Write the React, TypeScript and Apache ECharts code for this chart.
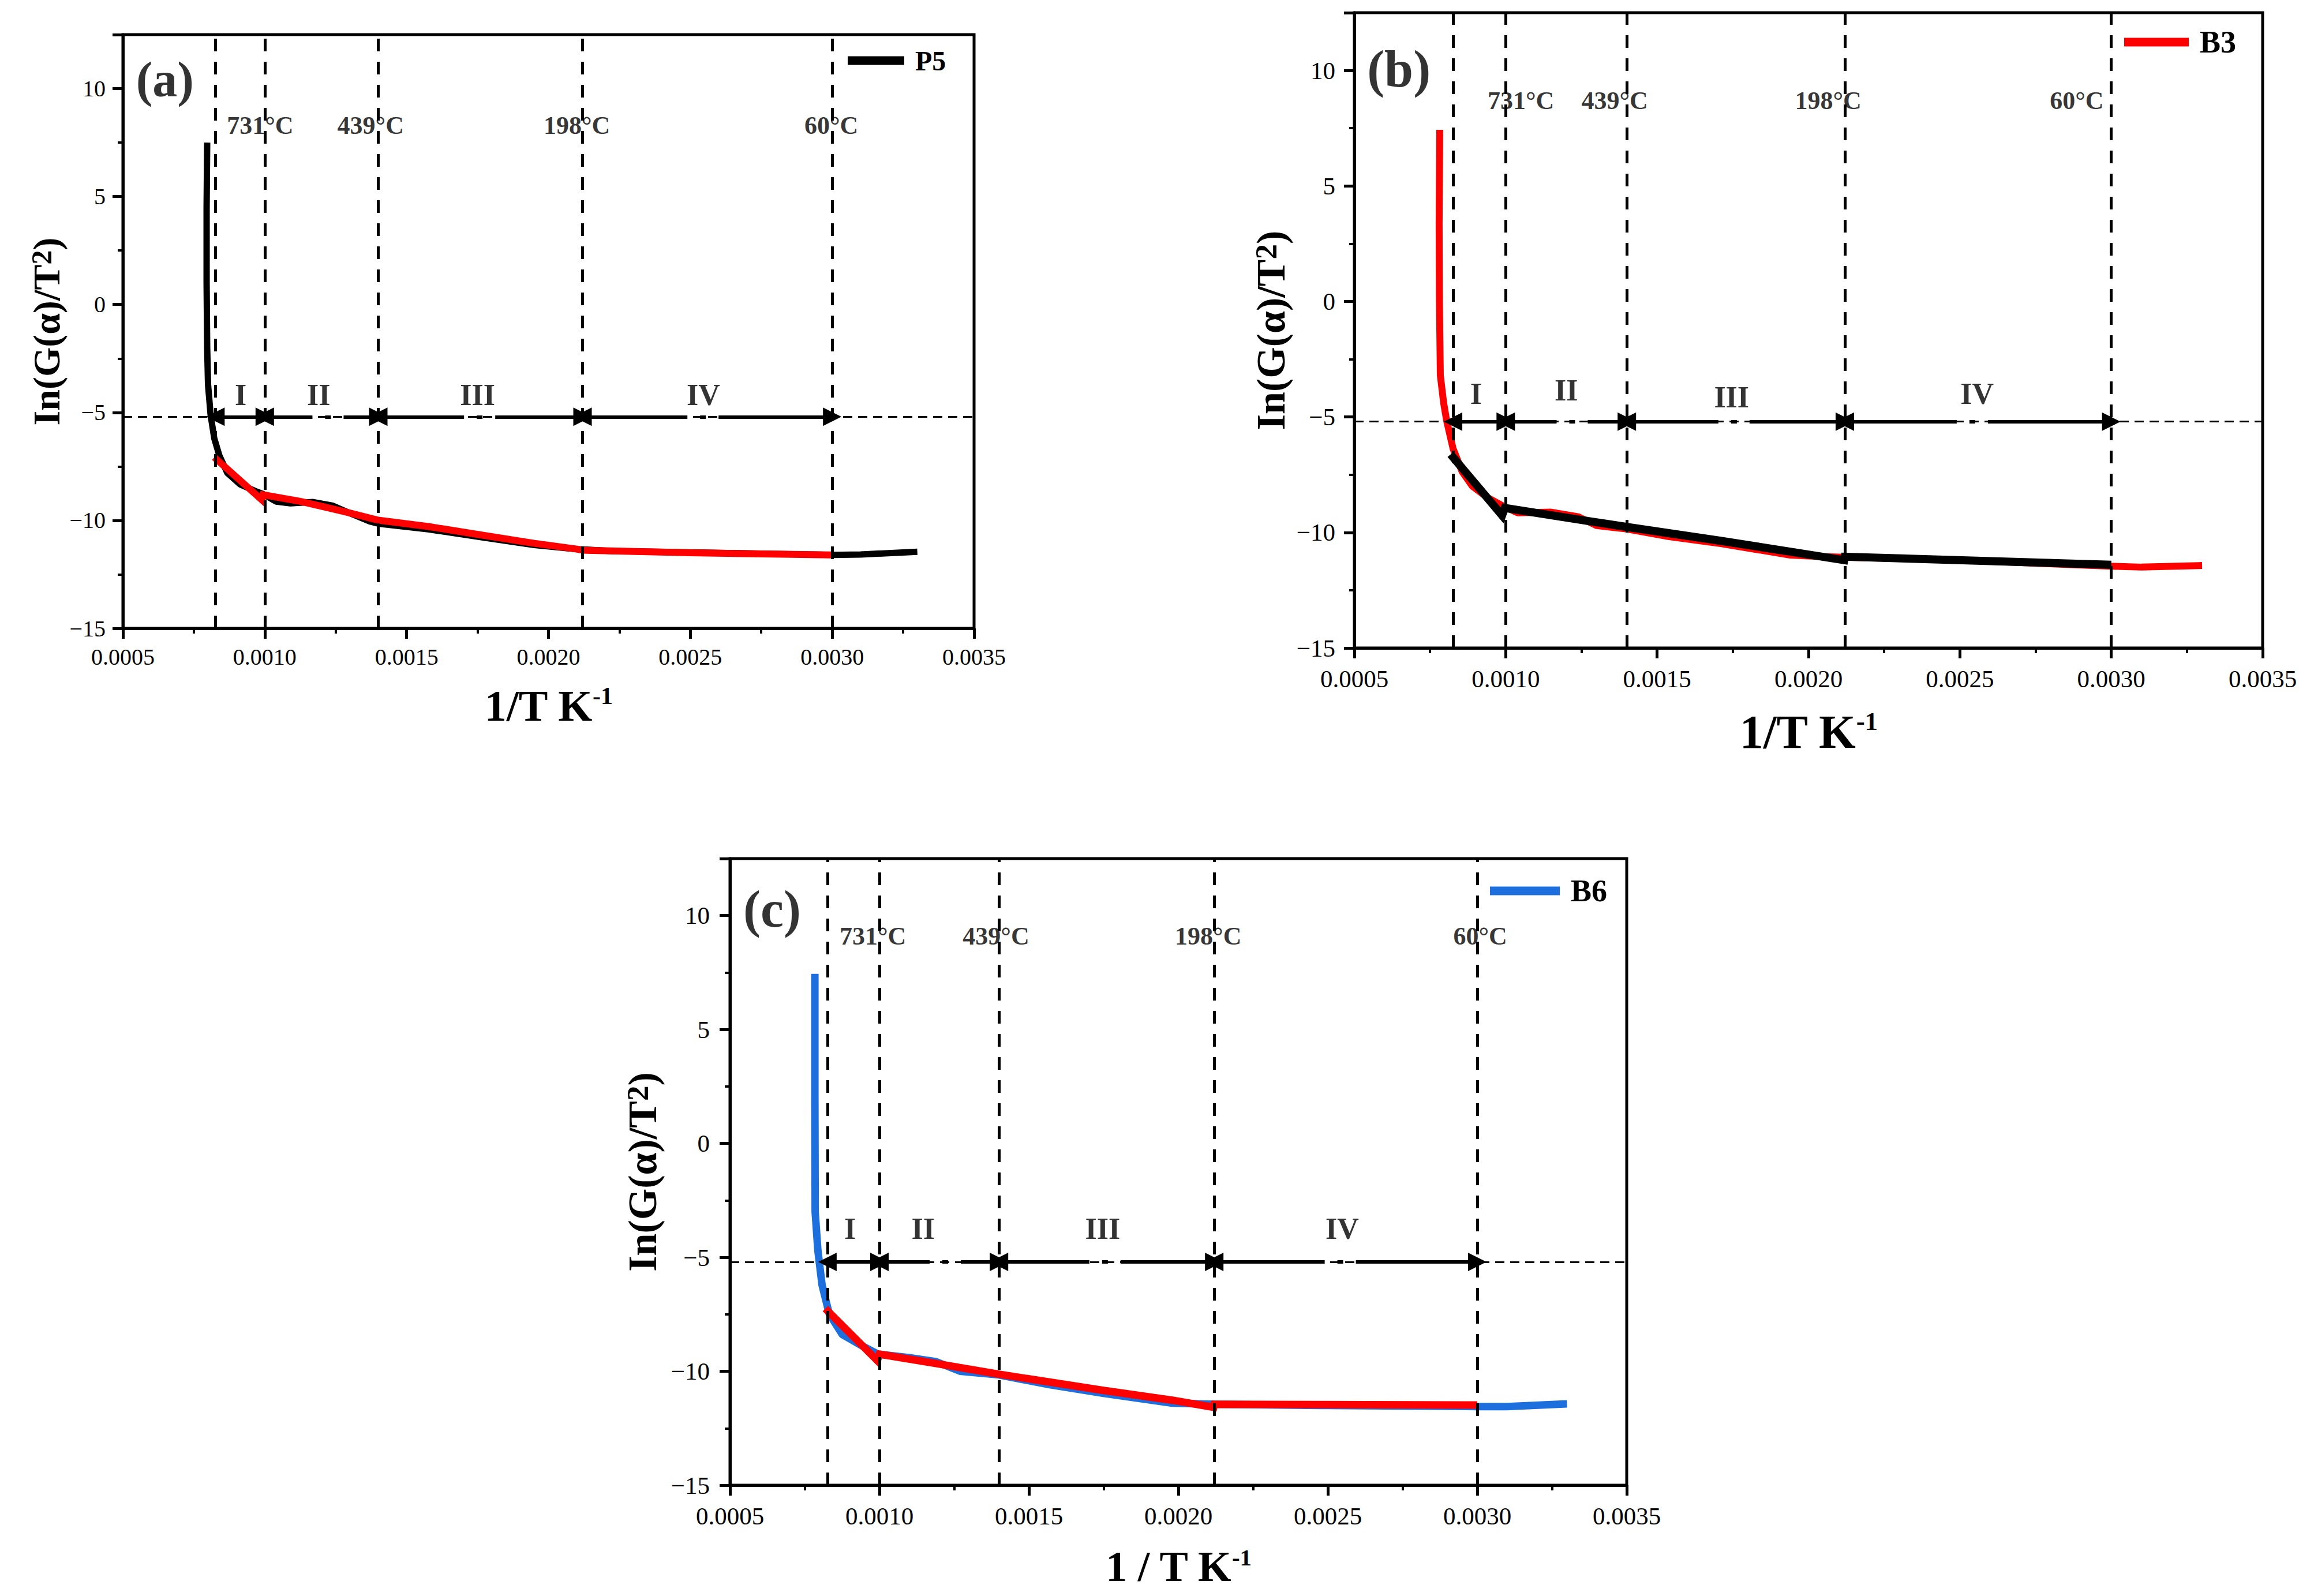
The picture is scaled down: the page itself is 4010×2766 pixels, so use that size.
import React, { useEffect, useRef } from 'react';
import * as echarts from 'echarts';

const FONT = '"Liberation Serif", "Times New Roman", serif';

// 坐标轴范围
const xRange = [0.0005, 0.0035];
const yRange = [-15, 12.5];

// 分段边界与标注
const stageBounds = [0.000826, 0.001, 0.0014, 0.00212, 0.003];
const stageNames = ['I', 'II', 'III', 'IV'];
const tempNames = ['731°C', '439°C', '198°C', '60°C'];
const baseY = -5.2;

// (a) P5
const p5X = [0.000797, 0.000795, 0.000795, 0.000797, 0.0008, 0.000809, 0.000822, 0.00084, 0.000868, 0.000913, 0.000968, 0.000994, 0.00104, 0.00109, 0.00117, 0.00124, 0.00131, 0.00137, 0.0014, 0.00158, 0.00177, 0.00195, 0.0021, 0.00222, 0.0025, 0.0028, 0.003, 0.0031, 0.0033];
const p5Y = [7.5, 4.5, 1.0, -2.0, -3.7, -5.1, -6.2, -7.0, -7.8, -8.33, -8.65, -8.78, -9.13, -9.21, -9.15, -9.32, -9.72, -10.05, -10.15, -10.42, -10.79, -11.14, -11.33, -11.42, -11.48, -11.55, -11.6, -11.58, -11.45];
const p5FitX = [0.000822, 0.00099, 0.000994, 0.00113, 0.00128, 0.0014, 0.00158, 0.00177, 0.00195, 0.0021, 0.00212, 0.0025, 0.003];
const p5FitY = [-7.08, -9.05, -8.81, -9.13, -9.59, -9.99, -10.29, -10.69, -11.06, -11.33, -11.38, -11.5, -11.6];
const p5TempX = [0.000984, 0.001373, 0.0021, 0.002997];
const p5TempY = [8.28, 8.28, 8.28, 8.28];
const p5StageX = [0.000915, 0.00119, 0.00175, 0.002546];
const p5StageY = [-4.2, -4.2, -4.2, -4.2];

// (b) B3
const b3X = [0.000782, 0.00078, 0.000781, 0.000784, 0.000795, 0.000805, 0.000826, 0.000856, 0.00089, 0.000942, 0.000992, 0.00104, 0.00115, 0.00124, 0.0013, 0.0014, 0.00154, 0.00171, 0.00194, 0.00205, 0.00212, 0.0025, 0.003, 0.0031, 0.0033];
const b3Y = [7.43, 3.3, 0, -3.2, -4.4, -5.17, -6.37, -7.37, -8.0, -8.51, -8.86, -9.15, -9.12, -9.32, -9.7, -9.85, -10.18, -10.48, -10.98, -11.05, -11.07, -11.2, -11.46, -11.5, -11.43];
const b3FitX = [0.000818, 0.000988, 0.000997, 0.00128, 0.0014, 0.00171, 0.00194, 0.002118, 0.00212, 0.003];
const b3FitY = [-6.62, -9.26, -8.94, -9.52, -9.76, -10.36, -10.83, -11.2, -11.05, -11.4];
const b3TempX = [0.00105, 0.00136, 0.002065, 0.002886];
const b3TempY = [8.7, 8.7, 8.7, 8.7];
const b3StageX = [0.000902, 0.0012, 0.001746, 0.002557];
const b3StageY = [-4.0, -3.85, -4.15, -4.0];

// (c) B6
const b6X = [0.000784, 0.000784, 0.000785, 0.000794, 0.000808, 0.000832, 0.000876, 0.000944, 0.000996, 0.0011, 0.00119, 0.00127, 0.0014, 0.00157, 0.00175, 0.00198, 0.00212, 0.0025, 0.003, 0.0031, 0.0033];
const b6Y = [7.44, 2.0, -3.0, -4.69, -6.21, -7.48, -8.39, -8.9, -9.25, -9.4, -9.58, -10.0, -10.16, -10.59, -10.97, -11.4, -11.45, -11.5, -11.55, -11.55, -11.43];
const b6FitX = [0.000819, 0.000993, 0.001, 0.00119, 0.0014, 0.00175, 0.00198, 0.002118, 0.00212, 0.003];
const b6FitY = [-7.25, -9.53, -9.25, -9.66, -10.13, -10.84, -11.27, -11.58, -11.45, -11.48];
const b6TempX = [0.000978, 0.00139, 0.0021, 0.00301];
const b6TempY = [9.1, 9.1, 9.1, 9.1];
const b6StageX = [0.000902, 0.001146, 0.001747, 0.002548];
const b6StageY = [-3.75, -3.75, -3.75, -3.75];

// 面板标签 (a)(b)(c)
const tagNames = ['(a)', '(b)', '(c)'];
const tagX = [0.000648, 0.000647, 0.000641];
const tagY = [10.42, 10.07, 10.28];

const panels = [
  {
    name: 'P5', color: '#000000', fitColor: '#ff0000', x: p5X, y: p5Y, fitX: p5FitX, fitY: p5FitY,
    tempX: p5TempX, tempY: p5TempY, stageX: p5StageX, stageY: p5StageY,
    xName: '1/T K{sup|-1}',
    box: { left: 213, top: 60, width: 1475, height: 1029 },
    ui: { tick: 40, ylabMargin: 30, xlabMargin: 29, yName: 66, yGap: 100, xName: 76, xGap: 96, tag: 86, legend: 48, legendLeft: 1469, legendY: 105, legendW: 98, lw: 11, fw: 12 },
  },
  {
    name: 'B3', color: '#ff0000', fitColor: '#000000', x: b3X, y: b3Y, fitX: b3FitX, fitY: b3FitY,
    tempX: b3TempX, tempY: b3TempY, stageX: b3StageX, stageY: b3StageY,
    xName: '1/T K{sup|-1}',
    box: { left: 2347, top: 22, width: 1574, height: 1101 },
    ui: { tick: 43, ylabMargin: 33, xlabMargin: 32, yName: 70, yGap: 110, xName: 82, xGap: 104, tag: 90, legend: 54, legendLeft: 3681, legendY: 73, legendW: 112, lw: 12, fw: 14 },
  },
  {
    name: 'B6', color: '#1c6fdd', fitColor: '#ff0000', x: b6X, y: b6Y, fitX: b6FitX, fitY: b6FitY,
    tempX: b6TempX, tempY: b6TempY, stageX: b6StageX, stageY: b6StageY,
    xName: '1 / T K{sup|-1}',
    box: { left: 1265, top: 1488, width: 1554, height: 1086 },
    ui: { tick: 43, ylabMargin: 35, xlabMargin: 32, yName: 70, yGap: 117, xName: 74, xGap: 104, tag: 90, legend: 54, legendLeft: 2582, legendY: 1544, legendW: 121, lw: 13, fw: 13 },
  },
];

const zip = (xs: number[], ys: number[]) => xs.map((v, i) => [v, ys[i]]);

function buildOption() {
  const grid: any[] = [];
  const xAxis: any[] = [];
  const yAxis: any[] = [];
  const legend: any[] = [];
  const series: any[] = [];

  panels.forEach((p, i) => {
    const { box, ui } = p;
    grid.push({ ...box, show: true, borderColor: '#000', borderWidth: 5, backgroundColor: 'transparent' });

    xAxis.push({
      type: 'value', gridIndex: i, min: xRange[0], max: xRange[1], interval: 0.0005,
      name: p.xName, nameLocation: 'middle', nameGap: ui.xGap,
      nameTextStyle: {
        fontFamily: FONT, fontWeight: 'bold', fontSize: ui.xName, color: '#000',
        rich: { sup: { fontFamily: FONT, fontWeight: 'bold', fontSize: Math.round(ui.xName * 0.55), verticalAlign: 'top', color: '#000' } },
      },
      axisLine: { onZero: false, lineStyle: { color: '#000', width: 5 } },
      axisTick: { inside: false, length: 18, lineStyle: { width: 5, color: '#000' } },
      minorTick: { show: true, splitNumber: 2, length: 9, lineStyle: { width: 4, color: '#000' } },
      splitLine: { show: false },
      axisLabel: {
        fontFamily: FONT, fontSize: ui.tick, color: '#000', margin: ui.xlabMargin,
        formatter: (v: number) => v.toFixed(4),
      },
    });

    yAxis.push({
      type: 'value', gridIndex: i, min: yRange[0], max: yRange[1], interval: 5,
      name: 'In(G(α)/T{sup|2})', nameLocation: 'middle', nameGap: ui.yGap,
      nameTextStyle: {
        fontFamily: FONT, fontWeight: 'bold', fontSize: ui.yName, color: '#000',
        rich: { sup: { fontFamily: FONT, fontWeight: 'bold', fontSize: Math.round(ui.yName * 0.75), verticalAlign: 'top', color: '#000' } },
      },
      axisLine: { onZero: false, lineStyle: { color: '#000', width: 5 } },
      axisTick: { inside: false, length: 18, lineStyle: { width: 5, color: '#000' } },
      minorTick: { show: true, splitNumber: 2, length: 9, lineStyle: { width: 4, color: '#000' } },
      splitLine: { show: false },
      axisLabel: {
        fontFamily: FONT, fontSize: ui.tick, color: '#000', margin: ui.ylabMargin, showMaxLabel: false,
        formatter: (v: number) => String(v).replace('-', '\u2212'),
      },
    });

    legend.push({
      data: [p.name], left: ui.legendLeft, top: ui.legendY - ui.legend / 2, padding: 0,
      icon: 'rect', itemWidth: ui.legendW, itemHeight: 15,
      textStyle: { fontFamily: FONT, fontWeight: 'bold', fontSize: ui.legend, color: '#000', padding: [0, 0, 0, 14] },
      selectedMode: false,
    });

    // 虚线辅助线
    series.push({
      type: 'line', name: `guide-${i}`, xAxisIndex: i, yAxisIndex: i, data: [], z: 1,
      markLine: {
        silent: true, precision: 8, symbol: ['none', 'none'], label: { show: false },
        data: [
          ...stageBounds.map((v) => ({ xAxis: v, lineStyle: { color: '#000', width: 5, type: [22, 18] } })),
          { yAxis: baseY, lineStyle: { color: '#000', width: 3, type: [16, 10] } },
        ],
      },
    });

    // 双向箭头
    const span = xRange[1] - xRange[0];
    series.push({
      type: 'line', name: `arrow-${i}`, xAxisIndex: i, yAxisIndex: i, data: [], z: 2,
      markLine: {
        silent: true, precision: 8, symbol: ['triangle', 'triangle'], symbolSize: 32, label: { show: false },
        lineStyle: { color: '#000', width: 6, type: 'solid' },
        data: stageBounds.slice(0, -1).map((a, k) => {
          const b = stageBounds[k + 1];
          const len = ((b - a) / span) * box.width;
          const type = len < 150 ? 'solid' : [len * 0.42, 22, 10, 22, len];
          return [
            { coord: [a, baseY], lineStyle: { color: '#000', width: 6, type } },
            { coord: [b, baseY] },
          ];
        }),
      },
    });

    series.push({
      type: 'line', name: p.name, xAxisIndex: i, yAxisIndex: i, z: 3,
      data: zip(p.x, p.y), showSymbol: false, symbol: 'none', color: p.color,
      lineStyle: { width: ui.lw, color: p.color },
    });
    series.push({
      type: 'line', name: `fit-${i}`, xAxisIndex: i, yAxisIndex: i, z: 4,
      data: zip(p.fitX, p.fitY), showSymbol: false, symbol: 'none', color: p.fitColor,
      lineStyle: { width: ui.fw, color: p.fitColor, join: 'miter' },
    });

    // 文字标注
    series.push({
      type: 'scatter', name: `text-${i}`, xAxisIndex: i, yAxisIndex: i, z: 5, silent: true,
      symbolSize: 1, itemStyle: { color: 'rgba(0,0,0,0)' },
      label: {
        show: true, position: 'inside', formatter: '{b}', color: '#000', textBorderWidth: 0,
        fontFamily: FONT, fontWeight: 'bold', fontSize: 44,
      },
      data: [
        ...tempNames.map((t, k) => ({ name: t, value: [p.tempX[k], p.tempY[k]] })),
        ...stageNames.map((t, k) => ({ name: t, value: [p.stageX[k], p.stageY[k]], label: { fontSize: 52 } })),
        { name: tagNames[i], value: [tagX[i], tagY[i]], label: { fontSize: ui.tag } },
      ],
    });
  });

  return { animation: false, backgroundColor: '#fff', grid, xAxis, yAxis, legend, series };
}

const App: React.FC = () => {
  const chartRef = useRef<HTMLDivElement>(null);

  useEffect(() => {
    if (!chartRef.current) return;
    document.body.style.margin = '0';
    const chart = echarts.init(chartRef.current, null, { renderer: 'svg' });
    chart.setOption(buildOption() as any);
    return () => {
      chart.dispose();
    };
  }, []);

  return <div ref={chartRef} style={{ width: 4010, height: 2766, background: '#fff' }} />;
};

export default App;
